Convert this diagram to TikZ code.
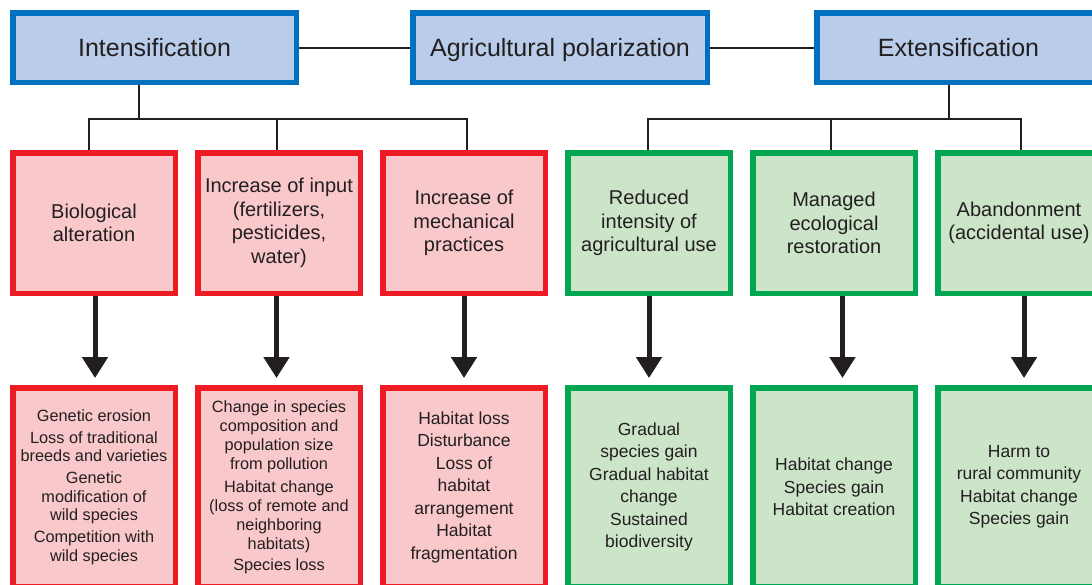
\documentclass[tikz,border=0pt]{standalone}
\usepackage{fontspec}
\setmainfont{Liberation Sans}
\usetikzlibrary{positioning,arrows.meta}
\definecolor{polblue}{RGB}{0,112,192}
\definecolor{polfill}{RGB}{185,205,234}
\definecolor{intred}{RGB}{237,28,36}
\definecolor{intfill}{RGB}{249,200,203}
\definecolor{extgreen}{RGB}{0,166,81}
\definecolor{extfill}{RGB}{204,229,201}
\definecolor{ink}{RGB}{35,31,32}

\tikzset{
  trend/.style={draw=polblue,fill=polfill,line width=5.5pt,minimum height=69.5pt,
    inner sep=0pt,text height=18pt,text depth=0pt,font=\fontsize{25}{30}\selectfont},
  driver/.style={line width=5.5pt,minimum width=162.5pt,minimum height=140.5pt,
    inner sep=0pt,align=center,font=\fontsize{20}{23.5}\selectfont},
  effect/.style={line width=5.5pt,minimum width=162.5pt,minimum height=198.5pt,
    inner sep=0pt,align=center,font=\fontsize{17.5}{22.5}\selectfont},
  densetext/.style={font=\fontsize{16.3}{18.5}\selectfont},
  intbox/.style={draw=intred,fill=intfill},
  extbox/.style={draw=extgreen,fill=extfill},
  link/.style={draw=ink,line width=2pt},
  flow/.style={draw=ink,line width=5pt,-{Triangle[length=21pt,width=25pt]},shorten >=7pt}
}

\begin{document}
\begin{tikzpicture}[x=1pt,y=-1pt,text=ink,node distance=17pt]
\useasboundingbox (0,0) rectangle (1092,584);
\clip (0,0) rectangle (1092,584);
% top row
\node[trend,minimum width=283.5pt] (int) at (154.5,47.5) {Intensification};
\node[trend,minimum width=294.5pt] (pol) at (560,47.5) {Agricultural polarization};
\node[trend,minimum width=283.5pt] (ext) at (958.5,47.5) {Extensification};
% drivers
\node[driver,intbox] (m1) at (94,223) {Biological\\alteration};
\node[driver,intbox,right=of m1] (m2) {Increase of input\\(fertilizers,\\pesticides,\\water)};
\node[driver,intbox,right=of m2] (m3) {Increase of\\mechanical\\practices};
\node[driver,extbox,right=of m3] (m4) {Reduced\\intensity of\\agricultural use};
\node[driver,extbox,right=of m4] (m5) {Managed\\ecological\\restoration};
\node[driver,extbox,right=of m5] (m6) {Abandonment\\(accidental use)};
% effects
\node[effect,intbox,densetext,below=89pt of m1] (b1) {Genetic erosion\\[3.5pt]Loss of traditional\\breeds and varieties\\[3.5pt]Genetic\\modification of\\wild species\\[3.5pt]Competition with\\wild species};
\node[effect,intbox,densetext,below=89pt of m2,font=\fontsize{16.3}{19}\selectfont] (b2) {Change in species\\composition and\\population size\\from pollution\\[4pt]Habitat change\\(loss of remote and\\neighboring\\habitats)\\[2pt]Species loss};
\node[effect,intbox,below=89pt of m3] (b3) {Habitat loss\\Disturbance\\Loss of\\habitat\\arrangement\\Habitat\\fragmentation};
\node[effect,extbox,below=89pt of m4] (b4) {Gradual\\species gain\\Gradual habitat\\change\\Sustained\\biodiversity};
\node[effect,extbox,below=89pt of m5] (b5) {Habitat change\\Species gain\\Habitat creation};
\node[effect,extbox,below=89pt of m6] (b6) {Harm to\\rural community\\Habitat change\\Species gain};
% branch points
\coordinate (ij) at (139,119);
\coordinate (i1) at (89,119);
\coordinate (i2) at (277,119);
\coordinate (i3) at (467,119);
\coordinate (ej) at (949,119);
\coordinate (e1) at (648,119);
\coordinate (e2) at (831,119);
\coordinate (e3) at (1021,119);
% connectors
\draw[link] (int) -- (pol);
\draw[link] (pol) -- (ext);
\draw[link] (ij |- int.south) -- (ij);
\draw[link] (i1 |- m1.north) -- (i1) -- (i3) -- (i3 |- m3.north);
\draw[link] (i2) -- (i2 |- m2.north);
\draw[link] (ej |- ext.south) -- (ej);
\draw[link] (e1 |- m4.north) -- (e1) -- (e3) -- (e3 |- m6.north);
\draw[link] (e2) -- (e2 |- m5.north);
% arrows
\draw[flow] ([xshift=1pt]m1.south) -- ([xshift=1pt]b1.north);
\draw[flow] ([xshift=-2.5pt]m2.south) -- ([xshift=-2.5pt]b2.north);
\draw[flow] (m3.south) -- (b3.north);
\draw[flow] (m4.south) -- (b4.north);
\draw[flow] ([xshift=8.5pt]m5.south) -- ([xshift=8.5pt]b5.north);
\draw[flow] ([xshift=5pt]m6.south) -- ([xshift=5pt]b6.north);
\end{tikzpicture}
\end{document}
